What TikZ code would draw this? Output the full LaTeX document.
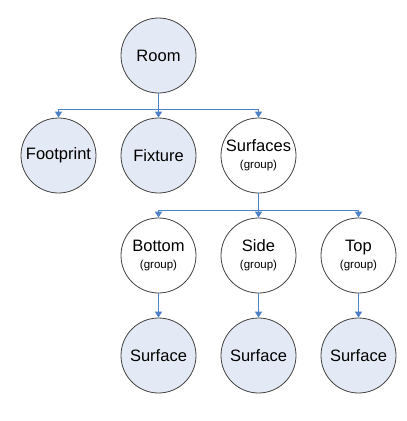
\documentclass[tikz,border=0pt]{standalone}
\usepackage{fontspec}
\setmainfont{Liberation Sans}
\usetikzlibrary{positioning,arrows.meta}
\definecolor{nodefill}{RGB}{228,234,245}
\definecolor{linkblue}{RGB}{79,129,199}
\begin{document}
\begin{tikzpicture}[x=1pt, y=1pt, node distance=100pt, thick,
    main node/.style={circle, draw=black!75, line width=0.8pt, fill=nodefill, minimum size=75pt, inner sep=0pt, align=center, font=\fontsize{16.5}{18}\selectfont},
    group node/.style={main node, fill=white},
    link/.style={draw=linkblue, line width=1.2pt},
    arrow/.style={link, -{Triangle[width=7pt,length=6pt]}}]
    \useasboundingbox (0,0) rectangle (407,-421);
    \node[main node] (1) at (158.5,-55.5) {Room};
    \node[main node] (3) [below of=1] {Fixture};
    \node[main node] (2) [left of=3] {Footprint};
    \node[group node] (4) [right of=3] {Surfaces\\[-1pt]{\fontsize{11.5}{13}\selectfont (group)}};
    \node[group node] (6) [below of=4] {Side\\[-1pt]{\fontsize{11.5}{13}\selectfont (group)}};
    \node[group node] (5) [left of=6] {Bottom\\[-1pt]{\fontsize{11.5}{13}\selectfont (group)}};
    \node[group node] (7) [right of=6] {Top\\[-1pt]{\fontsize{11.5}{13}\selectfont (group)}};
    \node[main node] (8) [below of=5] {Surface};
    \node[main node] (9) [below of=6] {Surface};
    \node[main node] (10) [below of=7] {Surface};
    % branches
    \path (1.south) ++(0,-16) coordinate (a);
    \path (4.south) ++(0,-17) coordinate (b);
    \draw[link] (1) -- (a);
    \draw[arrow] (a) -| (2);
    \draw[arrow] (a) -| (3);
    \draw[arrow] (a) -| (4);
    \draw[link] (4) -- (b);
    \draw[arrow] (b) -| (5);
    \draw[arrow] (b) -| (6);
    \draw[arrow] (b) -| (7);
    \draw[arrow] (5) -- (8);
    \draw[arrow] (6) -- (9);
    \draw[arrow] (7) -- (10);
\end{tikzpicture}
\end{document}
